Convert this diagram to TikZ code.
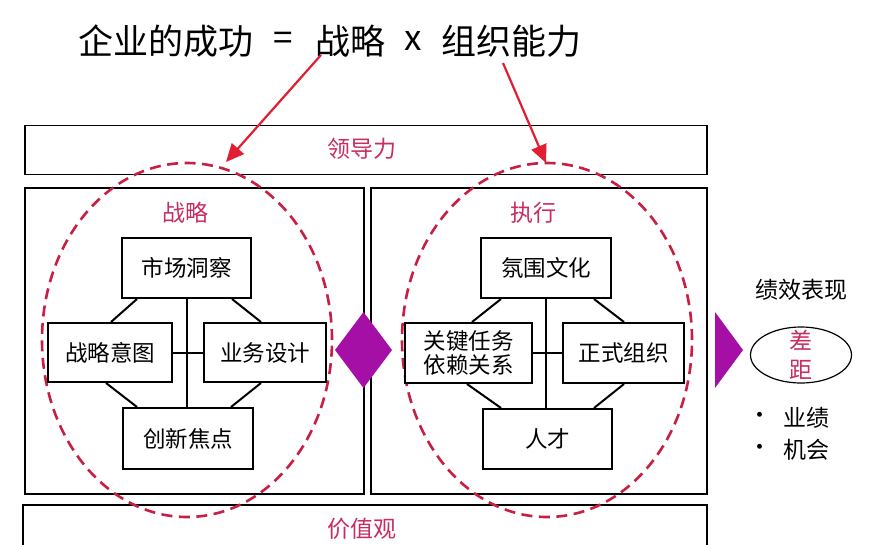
\documentclass[tikz,border=0pt]{standalone}
\usepackage{fontspec}
\setmainfont{Noto Sans CJK SC}
\usetikzlibrary{arrows.meta,calc,shapes.geometric}
\definecolor{pinktxt}{RGB}{200,45,95}
\definecolor{dashred}{RGB}{200,30,65}
\definecolor{arrred}{RGB}{225,30,50}
\definecolor{mag}{RGB}{165,15,165}
\begin{document}
\begin{tikzpicture}[x=1pt,y=-1pt,
  frame/.style={draw, line width=1.3pt, inner sep=0pt},
  item/.style={draw, line width=2pt, fill=white, inner sep=0pt, font=\fontsize{22.5}{24}\selectfont, align=center},
  lbl/.style={text=pinktxt, font=\fontsize{23}{25}\selectfont, inner sep=0pt},
  plain/.style={font=\fontsize{23}{25}\selectfont, inner sep=0pt},
  ttl/.style={font=\fontsize{35}{40}\selectfont, inner sep=0pt},
  link/.style={line width=2pt},
  circ/.style={draw=dashred, line width=2.6pt, dash pattern=on 11pt off 6.5pt},
  callout/.style={draw=arrred, line width=2.2pt, -{Triangle[length=18pt,width=16pt]}}]
\useasboundingbox (0,0) rectangle (873,544);
\fill[white] (0,0) rectangle (873,544);

% title
\node[ttl] (t1) at (165.5,41) {企业的成功};
\node[ttl] (t2) at (283,41) {=};
\node[ttl] (t3) at (350.5,41) {战略};
\node[ttl] (t4) at (413,41) {x};
\node[ttl] (t5) at (511.5,41) {组织能力};

% frames
\node[frame, minimum width=682pt, minimum height=49pt] (lead) at (366,150) {};
\node[lbl] at (362,149) {领导力};
\node[frame, minimum width=339pt, minimum height=306pt] (lbox) at (194.5,341) {};
\node[frame, minimum width=336pt, minimum height=306pt] (rbox) at (539,341) {};
\node[frame, minimum width=684pt, minimum height=60pt] (val) at (365,535) {};
\node[lbl] (valt) at (362,529) {价值观};

% dashed circles
\draw[circ] (187,340) ellipse [x radius=145pt, y radius=177pt];
\draw[circ] (547,340) ellipse [x radius=145pt, y radius=177pt];

% left group
\node[lbl] (zl) at (185,213) {战略};
\node[item, minimum width=129pt, minimum height=60pt] (mk) at (186.5,268) {市场洞察};
\node[item, minimum width=124pt, minimum height=59pt] (zy) at (110,352.5) {战略意图};
\node[item, minimum width=122pt, minimum height=59pt] (yw) at (265,352.5) {业务设计};
\node[item, minimum width=130pt, minimum height=61pt] (cx) at (188,438.5) {创新焦点};
\draw[link] (mk.south) -- (mk.south |- cx.north);
\draw[link] (zy.east) -- (yw.west);
\draw[link] ($(mk.south west)+(16,0)$) -- ($(zy.north west)+(64,0)$);
\draw[link] ($(mk.south west)+(111,0)$) -- ($(yw.north west)+(58,0)$);
\draw[link] ($(zy.south west)+(59,0)$) -- ($(cx.north west)+(15,0)$);
\draw[link] ($(yw.south west)+(58,0)$) -- ($(cx.north west)+(109,0)$);

% right group
\node[lbl] (zx) at (533,213) {执行};
\node[item, minimum width=130pt, minimum height=60pt] (fw) at (546,268) {氛围文化};
\node[item, minimum width=127pt, minimum height=60pt] (gj) at (468.5,353) {关键任务\\依赖关系};
\node[item, minimum width=121pt, minimum height=60pt] (zs) at (623.5,353) {正式组织};
\node[item, minimum width=129pt, minimum height=60pt] (rc) at (547.5,439) {人才};
\draw[link] (fw.south) -- (fw.south |- rc.north);
\draw[link] (gj.east) -- (zs.west);
\draw[link] ($(fw.south west)+(21,0)$) -- ($(gj.north west)+(68,0)$);
\draw[link] ($(fw.south west)+(114,0)$) -- ($(zs.north west)+(62,0)$);
\draw[link] ($(gj.south west)+(63,0)$) -- ($(rc.north west)+(19,0)$);
\draw[link] ($(zs.south west)+(62,0)$) -- ($(rc.north west)+(112,0)$);

% diamond and triangle
\fill[mag] (335,350) -- (363.5,312) -- (392,350) -- (363.5,388) -- cycle;
\fill[mag] (715,312) -- (743,350) -- (715,388) -- cycle;

% right side
\node[plain] (jx) at (801,290) {绩效表现};
\node[draw, line width=1.2pt, ellipse, minimum width=101pt, minimum height=56pt, inner sep=0pt] (gap) at (801,355) {};
\node[lbl] (cha) at (801,340) {差};
\node[lbl] (ju) at (801,370) {距};
\node[plain] (b1) at (760,418) {·};
\node[plain] (yj) at (806,418) {业绩};
\node[plain] (b2) at (760,450) {·};
\node[plain] (jh) at (806,450) {机会};

% callout arrows
\coordinate (s1) at (321,55);
\coordinate (s2) at (503,63);
\coordinate (e1) at (226,162);
\coordinate (e2) at (546,163);
\draw[callout] (s1) -- (e1);
\draw[callout] (s2) -- (e2);
\end{tikzpicture}
\end{document}
